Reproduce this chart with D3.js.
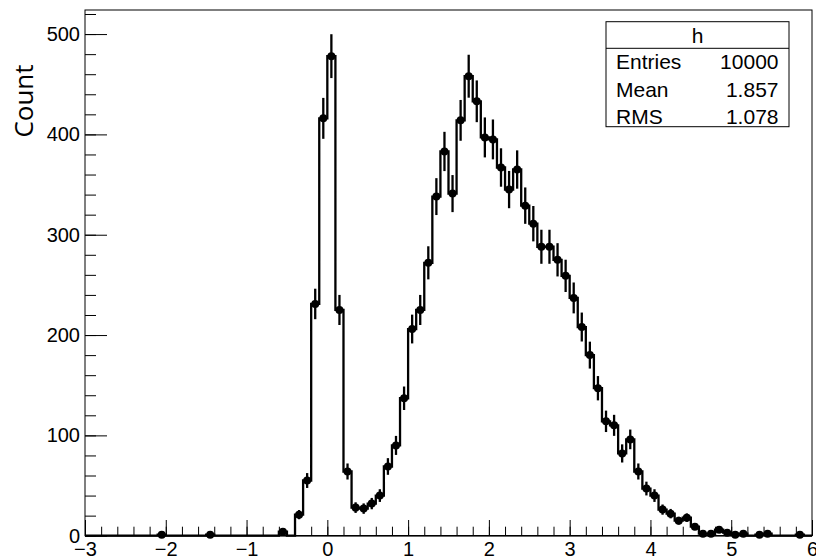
<!DOCTYPE html>
<meta charset="utf-8">
<script src="https://d3js.org/d3.v7.min.js"></script>
<style>
  body { margin: 0; background: #fff; }
  text { font-family: "Liberation Sans", Arial, sans-serif; }
</style>
<div id="my_dataviz"></div>
<script>

  // histogram h : 90 bins from -3 to 6
  var xMin = -3, xMax = 6;
  var counts = [
    0, 0, 0, 0, 0, 0, 0, 0, 0, 1,
    0, 0, 0, 0, 0, 1, 0, 0, 0, 0,
    0, 0, 0, 0, 4, 0, 21, 55, 231, 416,
    478, 225, 64, 28, 27, 32, 40, 69, 90, 137,
    206, 225, 272, 338, 383, 341, 414, 458, 433, 397,
    395, 367, 345, 365, 329, 311, 288, 288, 275, 259,
    237, 208, 180, 147, 114, 110, 82, 96, 64, 47,
    40, 26, 22, 15, 18, 9, 2, 2, 6, 3,
    1, 2, 0, 1, 2, 0, 0, 0, 1, 0
  ];
  var xTicks = [-3, -2, -1, 0, 1, 2, 3, 4, 5, 6];
  var yTicks = [0, 100, 200, 300, 400, 500];
  var statNames = ["Entries", "Mean", "RMS"];
  var statValues = ["10000", "1.857", "1.078"];

  var W = 816, H = 559;
  var margin = {top: 10, right: 4, bottom: 23.3, left: 85};

  var svg = d3.select("#my_dataviz")
    .append("svg")
      .attr("width", W)
      .attr("height", H);

  var x = d3.scaleLinear()
    .domain([xMin, xMax])
    .range([margin.left, W - margin.right]);
  var y = d3.scaleLinear()
    .domain([0, 524])
    .range([H - margin.bottom, margin.top]);

  var nBins = counts.length;
  var bw = (xMax - xMin) / nBins;
  var bins = counts.map(function(c, i) {
    return {lo: xMin + i * bw, hi: xMin + (i + 1) * bw, c: c};
  });

  // frame
  svg.append("rect")
    .attr("x", x(xMin)).attr("y", y(524))
    .attr("width", x(xMax) - x(xMin))
    .attr("height", y(0) - y(524))
    .attr("fill", "none")
    .attr("stroke", "black")
    .attr("stroke-width", 1);

  // x axis (ticks inside)
  var minorX = d3.range(0, 46).map(function(i) { return xMin + i * 0.2; });
  svg.append("g")
    .attr("transform", "translate(0," + y(0) + ")")
    .call(d3.axisBottom(x).tickValues(minorX).tickSize(-9).tickFormat(""))
    .call(function(g) { g.select(".domain").remove(); });
  svg.append("g")
    .attr("transform", "translate(0," + y(0) + ")")
    .style("font-size", "20px")
    .call(d3.axisBottom(x).tickValues(xTicks).tickSize(-15.7).tickPadding(6))
    .call(function(g) {
      g.select(".domain").remove();
      g.selectAll("text").attr("fill", "black").style("font-family", "'Liberation Sans', Arial, sans-serif");
    });

  // y axis (ticks inside)
  var minorY = d3.range(0, 27).map(function(i) { return i * 20; });
  svg.append("g")
    .attr("transform", "translate(" + x(xMin) + ",0)")
    .call(d3.axisLeft(y).tickValues(minorY).tickSize(-11).tickFormat(""))
    .call(function(g) { g.select(".domain").remove(); });
  svg.append("g")
    .attr("transform", "translate(" + x(xMin) + ",0)")
    .style("font-size", "20px")
    .call(d3.axisLeft(y).tickValues(yTicks).tickSize(-22).tickPadding(5))
    .call(function(g) {
      g.select(".domain").remove();
      g.selectAll("text").attr("fill", "black").style("font-family", "'Liberation Sans', Arial, sans-serif");
    });

  // bottom axis line
  svg.append("line")
    .attr("x1", x(xMin)).attr("x2", x(xMax))
    .attr("y1", y(0)).attr("y2", y(0))
    .attr("stroke", "black").attr("stroke-width", 1.5);

  // step outline
  var path = d3.path();
  path.moveTo(x(bins[0].lo), y(0));
  bins.forEach(function(b) {
    path.lineTo(x(b.lo), y(b.c));
    path.lineTo(x(b.hi), y(b.c));
  });
  path.lineTo(x(xMax), y(0));
  svg.append("path")
    .attr("d", path.toString())
    .attr("fill", "none")
    .attr("stroke", "black")
    .attr("stroke-width", 2.3);

  // error bars + markers for filled bins
  var filled = bins.filter(function(b) { return b.c > 0; });
  svg.selectAll(".err")
    .data(filled)
    .enter()
    .append("line")
      .attr("class", "err")
      .attr("x1", function(b) { return x((b.lo + b.hi) / 2); })
      .attr("x2", function(b) { return x((b.lo + b.hi) / 2); })
      .attr("y1", function(b) { return y(Math.max(0, b.c - Math.sqrt(b.c))); })
      .attr("y2", function(b) { return y(b.c + Math.sqrt(b.c)); })
      .attr("stroke", "black")
      .attr("stroke-width", 2.3);
  svg.selectAll(".mk")
    .data(filled)
    .enter()
    .append("circle")
      .attr("class", "mk")
      .attr("cx", function(b) { return x((b.lo + b.hi) / 2); })
      .attr("cy", function(b) { return y(b.c); })
      .attr("r", 4)
      .attr("fill", "black");

  // y title
  svg.append("text")
    .attr("transform", "translate(33,101) rotate(-90)")
    .attr("text-anchor", "middle")
    .style("font-family", "'Open Sans', sans-serif")
    .style("font-size", "26px")
    .text("Count");

  // stats box
  var box = svg.append("g");
  box.append("rect")
    .attr("x", 606).attr("y", 21.7)
    .attr("width", 183).attr("height", 105)
    .attr("fill", "white")
    .attr("stroke", "black")
    .attr("stroke-width", 1);
  box.append("line")
    .attr("x1", 606).attr("x2", 789)
    .attr("y1", 48.3).attr("y2", 48.3)
    .attr("stroke", "black");
  box.append("text")
    .attr("x", 697.5).attr("y", 43.3)
    .attr("text-anchor", "middle")
    .style("font-size", "21px")
    .text("h");
  statNames.forEach(function(n, i) {
    box.append("text")
      .attr("x", 616).attr("y", 69.3 + i * 27.2)
      .style("font-size", "21px")
      .text(n);
    box.append("text")
      .attr("x", 778.5).attr("y", 69.3 + i * 27.2)
      .attr("text-anchor", "end")
      .style("font-size", "21px")
      .text(statValues[i]);
  });

</script>
